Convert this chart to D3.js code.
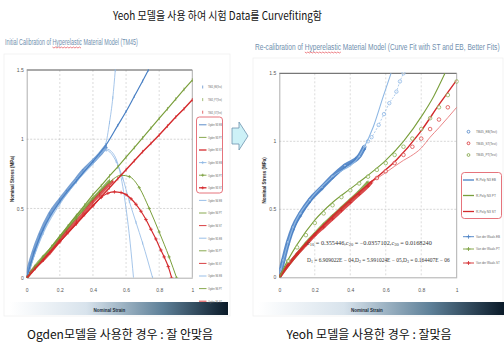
<!DOCTYPE html>
<html>
<head>
<meta charset="utf-8">
<script src="https://cdn.jsdelivr.net/npm/d3@7"></script>
<style>
  body { margin: 0; background: #fff; }
  svg { display: block; font-family: "Liberation Sans", Arial, sans-serif; }
</style>
</head>
<body>
<script>
// ---- data (strain, stress) ----
var xTicks = [0, 0.2, 0.4, 0.6, 0.8, 1];
var xTickLabels = ["0", "0.2", "0.4", "0.6", "0.8", "1"];
var yTicks = [0, 0.5, 1, 1.5];
var yTickLabels = ["0", "0.5", "1", "1.5"];

// left: Ogden calibration
var lEbTest = [[0,0],[0.02,0.1],[0.04,0.18],[0.08,0.31],[0.14,0.46],[0.2,0.56],[0.24,0.62],[0.3,0.71],[0.34,0.77],[0.4,0.84],[0.44,0.89],[0.48,0.95]];
var lPtTest = [[0,0],[0.05,0.08],[0.1,0.15],[0.14,0.2],[0.2,0.29],[0.24,0.35],[0.3,0.44],[0.34,0.49],[0.4,0.57],[0.44,0.62],[0.5,0.7]];
var lStTest = [[0,0],[0.05,0.07],[0.1,0.13],[0.14,0.18],[0.2,0.27],[0.24,0.33],[0.3,0.41],[0.34,0.46],[0.4,0.55],[0.44,0.6],[0.52,0.7]];
var ogdenEbA = [[0,0],[0.05,0.2],[0.1,0.35],[0.2,0.55],[0.3,0.7],[0.4,0.84],[0.48,0.96],[0.55,1.1],[0.6,1.2],[0.65,1.31],[0.7,1.42],[0.735,1.5]];
var ogdenEbB = [[0,0],[0.1,0.34],[0.2,0.55],[0.3,0.71],[0.4,0.85],[0.475,0.96],[0.5,1.12],[0.52,1.3],[0.535,1.5]];
var ogdenEbC = [[0,0],[0.1,0.33],[0.2,0.54],[0.3,0.7],[0.4,0.83],[0.48,0.93],[0.52,0.9],[0.56,0.78],[0.6,0.5],[0.625,0.25],[0.645,0]];
var ogdenEbD = [[0,0],[0.1,0.32],[0.2,0.53],[0.3,0.69],[0.4,0.82],[0.48,0.92],[0.54,0.84],[0.58,0.72],[0.62,0.55],[0.66,0.4],[0.7,0.25],[0.76,0]];
var ogdenPtA = [[0,0],[0.05,0.075],[0.1,0.15],[0.15,0.225],[0.2,0.3],[0.25,0.375],[0.3,0.45],[0.35,0.525],[0.4,0.6],[0.45,0.665],[0.5,0.735],[0.55,0.8],[0.6,0.87],[0.65,0.94],[0.7,1.01],[0.75,1.08],[0.8,1.15],[0.85,1.22],[0.9,1.29],[0.95,1.36],[1,1.427]];
var ogdenStA = [[0,0],[0.05,0.065],[0.1,0.13],[0.15,0.195],[0.2,0.26],[0.25,0.325],[0.3,0.39],[0.35,0.455],[0.4,0.52],[0.45,0.585],[0.5,0.65],[0.55,0.715],[0.6,0.78],[0.65,0.845],[0.7,0.91],[0.75,0.97],[0.8,1.03],[0.85,1.095],[0.9,1.16],[0.95,1.22],[1,1.285]];
var ogdenPtB = [[0,0],[0.1,0.15],[0.2,0.29],[0.3,0.43],[0.4,0.57],[0.5,0.69],[0.57,0.74],[0.62,0.73],[0.68,0.65],[0.74,0.5],[0.8,0.33],[0.86,0.15],[0.905,0]];
var ogdenStB = [[0,0],[0.1,0.13],[0.2,0.26],[0.3,0.39],[0.4,0.52],[0.45,0.58],[0.49,0.61],[0.53,0.62],[0.57,0.615],[0.6,0.6],[0.63,0.57],[0.66,0.53],[0.69,0.48],[0.72,0.42],[0.75,0.35],[0.78,0.28],[0.81,0.2],[0.83,0.15],[0.855,0.08],[0.875,0]];

// right: Yeoh (reduced polynomial N3) calibration
var rEbTest = [[0,0],[0.01,0.06],[0.023,0.127],[0.05,0.26],[0.079,0.37],[0.12,0.47],[0.173,0.57],[0.24,0.66],[0.3,0.74],[0.37,0.82],[0.45,0.89],[0.48,0.96]];
var rEbTestHigh = [[0.5,1.0],[0.52,1.03],[0.56,1.12],[0.59,1.2],[0.62,1.28],[0.66,1.365],[0.68,1.44],[0.7,1.5]];
var rPtTest = [[0.05,0.12],[0.1,0.22],[0.15,0.31],[0.2,0.4],[0.25,0.47],[0.3,0.53],[0.35,0.59],[0.4,0.64],[0.45,0.69],[0.5,0.74],[0.55,0.79],[0.6,0.84],[0.65,0.9],[0.7,0.96],[0.75,1.02],[0.8,1.09],[0.85,1.17],[0.9,1.25],[0.95,1.34],[1,1.44]];
var rStTest = [[0.55,0.73],[0.6,0.78],[0.65,0.84],[0.7,0.9],[0.75,0.96],[0.8,1.02],[0.85,1.09],[0.9,1.16],[0.95,1.25]];
var polyEb = [[0,0],[0.023,0.127],[0.079,0.37],[0.173,0.57],[0.3,0.74],[0.45,0.89],[0.48,0.96],[0.53,1.107],[0.586,1.33],[0.63,1.5]];
var polyPt = [[0,0],[0.05,0.13],[0.1,0.24],[0.2,0.42],[0.3,0.55],[0.4,0.65],[0.5,0.75],[0.6,0.86],[0.7,1.0],[0.81,1.2],[0.87,1.33],[0.934,1.5]];
var polySt = [[0,0],[0.1,0.17],[0.2,0.32],[0.3,0.45],[0.4,0.57],[0.53,0.715],[0.66,0.862],[0.79,1.06],[0.906,1.28],[1,1.45]];
var vdwEb = [[0,0],[0.02,0.11],[0.05,0.24],[0.08,0.35],[0.12,0.45],[0.17,0.55],[0.24,0.65],[0.3,0.73],[0.37,0.81],[0.43,0.87],[0.48,0.94]];
var vdwPt = [[0,0],[0.05,0.09],[0.1,0.17],[0.15,0.25],[0.2,0.32],[0.25,0.39],[0.3,0.45],[0.35,0.51],[0.4,0.57],[0.45,0.63],[0.5,0.7]];
var vdwSt = [[0,0],[0.05,0.09],[0.1,0.17],[0.15,0.24],[0.2,0.31],[0.25,0.37],[0.3,0.43],[0.35,0.49],[0.4,0.55],[0.45,0.61],[0.5,0.67],[0.52,0.7]];
var vdwStHigh = [[0.52,0.7],[0.6,0.77],[0.7,0.86],[0.74,0.89],[0.8,0.95],[0.85,1.03],[0.9,1.1],[1,1.25]];

var leftLegend = ["TM45_EB(Test)", "TM45_PT(Test)", "TM45_ST(Test)",
  "Ogden N3 EB", "Ogden N3 PT", "Ogden N3 ST", "Ogden N3 EB", "Ogden N3 PT", "Ogden N3 ST",
  "Ogden N4 EB", "Ogden N4 PT", "Ogden N4 ST", "Ogden N5 EB", "Ogden N5 PT", "Ogden N5 ST",
  "Ogden N6 EB", "Ogden N6 PT", "Ogden N6 ST"];
var rightLegend = ["TM45_EB(Test)", "TM45_ST(Test)", "TM45_PT(Test)",
  "R-Poly N3 EB", "R-Poly N3 PT", "R-Poly N3 ST",
  "Van der Waals EB", "Van der Waals PT", "Van der Waals ST"];

// ---- styles ----
var blue = "#4a80c4", lblue = "#8fb8e4", green = "#7a9f3c", red = "#d42a2d";

var svg = d3.select("body").append("svg")
  .attr("width", 504)
  .attr("height", 344);

var defs = svg.append("defs");
var grad = defs.append("linearGradient").attr("id", "strainbar");
grad.append("stop").attr("offset", "0%").attr("stop-color", "#ffffff");
grad.append("stop").attr("offset", "35%").attr("stop-color", "#d8e3ec");
grad.append("stop").attr("offset", "70%").attr("stop-color", "#5e8098");
grad.append("stop").attr("offset", "100%").attr("stop-color", "#0a1a28");

// squeeze a text horizontally so it spans w pixels
function squeeze(sel, x, y, w) {
  var len = sel.node().getComputedTextLength();
  var k = w / len;
  sel.attr("transform", "translate(" + x + "," + y + ") scale(" + k + ",1)");
  return k;
}

// main title
var mainTitle = svg.append("text")
  .style("font-family", "'Noto Sans CJK KR', sans-serif")
  .style("font-size", "11.5px")
  .attr("fill", "#111")
  .text("Yeoh 모델을 사용 하여  시험  Data를 Curvefiting함");
squeeze(mainTitle, 113, 20, 209);

function panelTitle(x, y, w, size, pre, word, post) {
  var t = svg.append("text")
    .style("font-family", "'Liberation Sans Narrow', 'Liberation Sans', sans-serif")
    .style("font-size", size + "px")
    .attr("fill", "#6f8fae")
    .text(pre + word + post);
  var node = t.node();
  var a = node.getSubStringLength(0, pre.length);
  var b = node.getSubStringLength(0, pre.length + word.length);
  var k = squeeze(t, x, y, w);
  // red squiggle under the flagged word
  var pts = d3.range(x + a * k, x + b * k, 1.5).map(function(v, i) { return [v, y + 2 + (i % 2) * 1]; });
  svg.append("path")
    .attr("d", d3.line()(pts))
    .attr("fill", "none").attr("stroke", "#e0303a").attr("stroke-width", 0.6);
}
panelTitle(5, 45, 133, 9.5, "Initial Calibration of ", "Hyperelastic", " Material Model (TM45)");
panelTitle(255, 50, 245, 9, "Re-calibration of ", "Hyperelastic", " Material Model (Curve Fit with ST and EB, Better Fits)");

// arrow between the panels
svg.append("path")
  .attr("d", "M232,128 L239,128 L239,122 L248,136 L239,150 L239,144 L232,144 Z")
  .attr("fill", "#cdf1f7").attr("stroke", "#6d93ad").attr("stroke-width", 0.8);

function makePanel(cfg) {
  var x = d3.scaleLinear().domain([0, 1]).range(cfg.xr);
  var y = d3.scaleLinear().domain([0, 1.5]).range(cfg.yr);
  var g = svg.append("g");

  // faint frame of the pasted chart
  g.append("rect")
    .attr("x", cfg.frame[0]).attr("y", cfg.frame[1])
    .attr("width", cfg.frame[2]).attr("height", cfg.frame[3])
    .attr("fill", "#fff").attr("stroke", "#f0f0f0").attr("stroke-width", 0.8);

  // gradient strain bar
  g.append("rect")
    .attr("x", cfg.bar[0]).attr("y", 302)
    .attr("width", cfg.bar[1] - cfg.bar[0]).attr("height", 13)
    .attr("fill", "url(#strainbar)");
  g.append("text")
    .attr("x", (x(0) + x(1)) / 2 + cfg.barLabelShift).attr("y", 312)
    .attr("text-anchor", "middle")
    .style("font-size", "4.5px").style("font-weight", "bold")
    .attr("fill", "#1d2d3a")
    .text("Nominal Strain");

  // grid
  g.selectAll(".vgrid").data(xTicks.slice(1, -1)).enter().append("line")
    .attr("x1", d => x(d)).attr("x2", d => x(d))
    .attr("y1", y(1.5)).attr("y2", y(0))
    .attr("stroke", "#c4c4c4").attr("stroke-width", 0.6).attr("stroke-dasharray", "2,2");
  g.selectAll(".hgrid").data([0.5, 1]).enter().append("line")
    .attr("x1", x(0)).attr("x2", x(1))
    .attr("y1", d => y(d)).attr("y2", d => y(d))
    .attr("stroke", "#b8b8b8").attr("stroke-width", 0.6).attr("stroke-dasharray", "2,1.5");

  // frame lines
  g.append("line").attr("x1", x(0)).attr("x2", x(1)).attr("y1", y(1.5)).attr("y2", y(1.5))
    .attr("stroke", "#555").attr("stroke-width", 1);
  g.append("line").attr("x1", x(1)).attr("x2", x(1)).attr("y1", y(1.5)).attr("y2", y(0))
    .attr("stroke", "#999").attr("stroke-width", 0.8);

  // axes
  var bottomAxis = d3.axisBottom(x).tickValues(xTicks)
    .tickFormat((d, i) => xTickLabels[i]).tickSize(0).tickPadding(11);
  var leftAxis = d3.axisLeft(y).tickValues(yTicks)
    .tickFormat((d, i) => yTickLabels[i]).tickSize(0).tickPadding(3);
  var ax = g.append("g").attr("transform", "translate(0," + y(0) + ")").call(bottomAxis);
  var ay = g.append("g").attr("transform", "translate(" + x(0) + ",0)").call(leftAxis);
  [ax, ay].forEach(function(a) {
    a.select(".domain").attr("stroke", "#999").attr("stroke-width", 0.8);
    a.selectAll("text").style("font-size", "5px").attr("fill", "#555")
      .style("font-family", "'Liberation Sans Narrow', 'Liberation Sans', sans-serif");
  });

  g.append("text")
    .attr("transform", "translate(" + cfg.yLabelX + "," + ((y(0) + y(1.5)) / 2 + 5) + ") rotate(-90)")
    .attr("text-anchor", "middle")
    .style("font-size", "4.5px").style("font-weight", "bold")
    .attr("fill", "#333")
    .text("Nominal Stress (MPa)");

  var clipId = "clip" + cfg.id;
  defs.append("clipPath").attr("id", clipId).append("rect")
    .attr("x", x(0)).attr("y", y(1.5) - 1)
    .attr("width", x(1) - x(0) + 2).attr("height", y(0) - y(1.5) + 1);
  var plot = g.append("g").attr("clip-path", "url(#" + clipId + ")");

  return { g: g, plot: plot, x: x, y: y };
}

function marker(sel, type, color, s) {
  if (type === "circle") {
    sel.append("circle").attr("r", s).attr("fill", "#fff").attr("fill-opacity", 0.5)
      .attr("stroke", color).attr("stroke-width", 0.8);
  } else if (type === "plus") {
    sel.append("path").attr("d", "M" + (-s) + ",0H" + s + "M0," + (-s) + "V" + s)
      .attr("stroke", color).attr("stroke-width", 0.8);
  } else if (type === "tick") {
    sel.append("path").attr("d", "M0," + (-s) + "V" + s)
      .attr("stroke", color).attr("stroke-width", 0.7);
  }
}

function series(p, data, st) {
  var line = d3.line().x(d => p.x(d[0])).y(d => p.y(d[1])).curve(d3.curveMonotoneX);
  if (st.width > 0) {
    p.plot.append("path").datum(data)
      .attr("d", st.curve === false ? d3.line().x(d => p.x(d[0])).y(d => p.y(d[1]))(data) : line)
      .attr("fill", "none").attr("stroke", st.color)
      .attr("stroke-width", st.width)
      .attr("stroke-dasharray", st.dash || null)
      .attr("opacity", st.opacity || 1);
  }
  if (st.marker) {
    p.plot.selectAll(null).data(data).enter().append("g")
      .attr("transform", d => "translate(" + p.x(d[0]) + "," + p.y(d[1]) + ")")
      .each(function() { marker(d3.select(this), st.marker, st.color, st.size || 1.5); });
  }
}

// ---- left panel ----
var L = makePanel({ id: "L", xr: [26.7, 192.3], yr: [277.7, 70], frame: [4, 54, 226, 262],
  bar: [10, 228], barLabelShift: 0, yLabelX: 14 });

series(L, lEbTest, { color: blue, width: 4, opacity: 0.75, marker: "tick", size: 2 });
series(L, lPtTest, { color: green, width: 3, opacity: 0.8, marker: "tick", size: 2 });
series(L, lStTest, { color: red, width: 3, opacity: 0.8, marker: "tick", size: 2 });
series(L, ogdenEbD, { color: lblue, width: 0.8, marker: "tick", size: 1.5 });
series(L, ogdenEbC, { color: lblue, width: 0.8 });
series(L, ogdenEbB, { color: lblue, width: 0.8, marker: "tick", size: 1.5 });
series(L, ogdenEbA, { color: blue, width: 1.2, marker: "tick", size: 1.5 });
series(L, ogdenPtB, { color: green, width: 1, marker: "plus", size: 1.6 });
series(L, ogdenStB, { color: red, width: 1.2, marker: "plus", size: 1.8 });
series(L, ogdenPtA, { color: green, width: 1.2, marker: "tick", size: 1.8, curve: false });
series(L, ogdenStA, { color: red, width: 1.4, marker: "tick", size: 1.8, curve: false });

// left legend
var lColors = [lblue, green, red];
var lLeg = L.g.append("g").selectAll(".leg").data(leftLegend).enter().append("g")
  .attr("transform", (d, i) => "translate(0," + (87 + i * 12.6) + ")");
lLeg.each(function(d, i) {
  var s = d3.select(this);
  var c = i < 6 ? [blue, green, red][i % 3] : lColors[i % 3];
  if (i >= 3) {
    s.append("line").attr("x1", 199).attr("x2", 206.5).attr("y1", 0).attr("y2", 0)
      .attr("stroke", c).attr("stroke-width", i === 5 || i === 8 ? 1.3 : 0.9);
  }
  var m = i < 3 ? "tick" : (i >= 6 && i < 9 ? "plus" : null);
  if (m) {
    var mg = s.append("g").attr("transform", "translate(202.7,0)");
    marker(mg, m, c, 1.5);
  }
  var t = s.append("text")
    .style("font-family", "'Liberation Sans Narrow', 'Liberation Sans', sans-serif")
    .style("font-size", "3.6px").attr("fill", "#666").text(d);
  squeeze(t, 208, 1.3, 14);
});
L.g.append("rect").attr("x", 196.5).attr("y", 117).attr("width", 26).attr("height", 76)
  .attr("rx", 3).attr("fill", "none").attr("stroke", "#e0505a").attr("stroke-width", 0.8);

// ---- right panel ----
var R = makePanel({ id: "R", xr: [279.3, 456.7], yr: [277.3, 73.3], frame: [253, 58, 250, 258],
  bar: [258, 504], barLabelShift: -1, yLabelX: 266 });

series(R, rEbTest, { color: blue, width: 4.5, opacity: 0.9, marker: "circle", size: 1.6 });
series(R, vdwEb, { color: blue, width: 1, marker: "plus", size: 1.5 });
series(R, rEbTestHigh, { color: lblue, width: 0.7, dash: "2,1.5", marker: "circle", size: 1.7 });
series(R, polyEb, { color: lblue, width: 1.1 });
series(R, vdwPt, { color: green, width: 3, opacity: 0.85, marker: "plus", size: 1.6 });
series(R, vdwSt, { color: red, width: 3.2, opacity: 0.85, marker: "plus", size: 1.8 });
series(R, vdwStHigh, { color: "#e8787a", width: 0.9 });
series(R, polySt, { color: red, width: 1.4 });
series(R, polyPt, { color: green, width: 1.1 });
series(R, rPtTest, { color: "#8fb25a", width: 0, marker: "circle", size: 1.8 });
series(R, rStTest, { color: "#dc4a4a", width: 0, marker: "circle", size: 1.8 });

// equation text
var eq = R.g.append("g").style("font-family", "'Liberation Serif', serif").style("font-size", "5.6px").attr("fill", "#333");
var eq1 = eq.append("text");
[["c", "10", " = 0.355446,"], ["c", "20", " = −0.0357102,"], ["c", "30", " = 0.0168240"]].forEach(function(p) {
  eq1.append("tspan").text(p[0]);
  eq1.append("tspan").attr("dy", 1.2).style("font-size", "4px").text(p[1]);
  eq1.append("tspan").attr("dy", -1.2).text(p[2]);
});
squeeze(eq1, 307, 245, 125);
var eq2 = eq.append("text");
[["D", "1", " = 6.909022E − 04,"], ["D", "2", " = 5.991024E − 05,"], ["D", "3", " = 0.164407E − 06"]].forEach(function(p) {
  eq2.append("tspan").text(p[0]);
  eq2.append("tspan").attr("dy", 1.2).style("font-size", "4px").text(p[1]);
  eq2.append("tspan").attr("dy", -1.2).text(p[2]);
});
squeeze(eq2, 307, 262, 143);

// right legend
var rColors = [blue, red, green, blue, green, red, blue, green, red];
var rY = [131.7, 143.3, 155, 180, 195.5, 211.5, 236.7, 249, 263];
var rLeg = R.g.append("g").selectAll(".leg").data(rightLegend).enter().append("g")
  .attr("transform", (d, i) => "translate(0," + rY[i] + ")");
rLeg.each(function(d, i) {
  var s = d3.select(this);
  var c = rColors[i];
  if (i >= 3) {
    s.append("line").attr("x1", 463).attr("x2", 474).attr("y1", 0).attr("y2", 0)
      .attr("stroke", c).attr("stroke-width", i < 6 ? 1.3 : 0.9);
  }
  if (i < 3) marker(s.append("g").attr("transform", "translate(468.5,0)"), "circle", c, 1.4);
  if (i >= 6) marker(s.append("g").attr("transform", "translate(468.5,0)"), "plus", c, 2);
  var t = s.append("text")
    .style("font-family", "'Liberation Sans Narrow', 'Liberation Sans', sans-serif")
    .style("font-size", "4.4px").attr("fill", "#666").text(d);
  squeeze(t, 476, 1.4, i >= 6 ? 24 : (i >= 3 ? 20 : 21));
});
R.g.append("rect").attr("x", 461.5).attr("y", 172.5).attr("width", 40).attr("height", 46)
  .attr("rx", 3).attr("fill", "none").attr("stroke", "#e0505a").attr("stroke-width", 0.8);

// captions
svg.append("text").attr("x", 27).attr("y", 339)
  .style("font-family", "'Noto Sans CJK KR', sans-serif").style("font-size", "12px")
  .attr("fill", "#111").text("Ogden모델을 사용한 경우 : 잘 안맞음");
svg.append("text").attr("x", 369).attr("y", 339).attr("text-anchor", "middle")
  .style("font-family", "'Noto Sans CJK KR', sans-serif").style("font-size", "12px")
  .attr("fill", "#111").text("Yeoh 모델을 사용한 경우 : 잘맞음");
</script>
</body>
</html>
